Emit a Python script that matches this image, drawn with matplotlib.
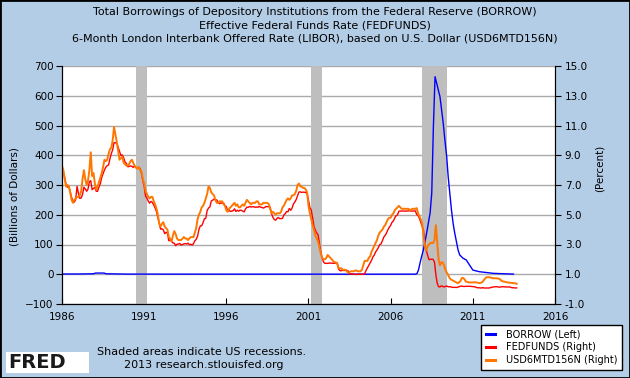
import numpy as np
import matplotlib
matplotlib.use('Agg')
import matplotlib.pyplot as plt
from matplotlib.lines import Line2D
from matplotlib.patches import Rectangle

# ---- data ----
# BORROW, billions of dollars (left axis)
borrow_dates = [1986.0, 1987.0, 1987.9, 1988.05, 1988.55, 1988.7, 1990.0, 1995.0,
                2000.0, 2005.0, 2007.5, 2007.6, 2007.69, 2007.83, 2007.99, 2008.19,
                2008.4, 2008.5, 2008.6, 2008.7, 2008.8, 2008.9, 2009.0, 2009.1,
                2009.2, 2009.3, 2009.41, 2009.5, 2009.6, 2009.7, 2009.8, 2009.9,
                2010.0, 2010.1, 2010.2, 2010.4, 2010.6, 2010.8, 2011.0, 2011.4,
                2012.25, 2013.47]
borrow = [0.8, 0.9, 1.5, 4, 4, 1.5, 0.5, 0.3,
          0.3, 0.2, 0.3, 2, 14, 48, 82, 139,
          206, 273, 496, 664, 642, 619, 597, 552,
          507, 451, 395, 328, 272, 216, 171, 138,
          110, 82, 65, 54, 48, 31, 14, 8.5,
          3, 0.5]

# FEDFUNDS, percent, monthly from Jan 1986 (right axis)
fedfunds = [
    8.14, 7.86, 7.48, 6.99, 6.85, 6.92, 6.56, 6.17, 5.89, 5.85, 6.04, 6.91,
    6.43, 6.10, 6.13, 6.37, 6.85, 6.73, 6.58, 6.73, 7.22, 7.29, 6.69, 6.77,
    6.83, 6.58, 6.58, 6.87, 7.09, 7.51, 7.75, 8.01, 8.19, 8.30, 8.35, 8.76,
    9.12, 9.36, 9.85, 9.84, 9.81, 9.53, 9.24, 8.99, 9.02, 8.84, 8.55, 8.45,
    8.23, 8.24, 8.28, 8.26, 8.18, 8.29, 8.15, 8.13, 8.20, 8.11, 7.81, 7.31,
    6.91, 6.25, 6.12, 5.91, 5.78, 5.90, 5.82, 5.66, 5.45, 5.21, 4.81, 4.43,
    4.03, 4.06, 3.98, 3.73, 3.82, 3.76, 3.25, 3.30, 3.22, 3.10, 3.09, 2.92,
    3.02, 3.03, 3.07, 2.96, 3.00, 3.04, 3.06, 3.03, 3.09, 2.99, 3.02, 2.96,
    3.05, 3.25, 3.34, 3.56, 4.01, 4.25, 4.26, 4.47, 4.73, 4.76, 5.29, 5.45,
    5.53, 5.92, 5.98, 6.05, 6.01, 6.00, 5.85, 5.74, 5.80, 5.76, 5.80, 5.60,
    5.56, 5.22, 5.31, 5.22, 5.24, 5.27, 5.40, 5.22, 5.30, 5.24, 5.31, 5.29,
    5.25, 5.19, 5.39, 5.51, 5.50, 5.56, 5.52, 5.54, 5.54, 5.50, 5.52, 5.50,
    5.56, 5.51, 5.49, 5.45, 5.49, 5.56, 5.54, 5.55, 5.51, 5.07, 4.83, 4.68,
    4.63, 4.76, 4.81, 4.74, 4.74, 4.76, 4.99, 5.07, 5.22, 5.20, 5.42, 5.30,
    5.45, 5.73, 5.85, 6.02, 6.27, 6.53, 6.54, 6.50, 6.52, 6.51, 6.51, 6.40,
    5.98, 5.49, 5.31, 4.80, 4.21, 3.97, 3.77, 3.65, 3.07, 2.49, 2.09, 1.82,
    1.73, 1.74, 1.73, 1.75, 1.75, 1.75, 1.73, 1.74, 1.75, 1.75, 1.34, 1.24,
    1.24, 1.26, 1.25, 1.26, 1.26, 1.22, 1.01, 1.03, 1.01, 1.01, 1.00, 0.98,
    1.00, 1.01, 1.00, 1.00, 1.00, 1.03, 1.26, 1.43, 1.61, 1.76, 1.93, 2.16,
    2.28, 2.50, 2.63, 2.79, 3.00, 3.04, 3.26, 3.50, 3.62, 3.78, 4.00, 4.16,
    4.29, 4.49, 4.59, 4.79, 4.94, 4.99, 5.24, 5.25, 5.25, 5.25, 5.25, 5.24,
    5.25, 5.26, 5.26, 5.25, 5.25, 5.25, 5.26, 5.02, 4.94, 4.76, 4.49, 4.24,
    3.94, 2.98, 2.61, 2.28, 1.98, 2.00, 2.01, 2.00, 1.81, 0.97, 0.39, 0.16,
    0.15, 0.22, 0.18, 0.15, 0.18, 0.21, 0.16, 0.16, 0.15, 0.12, 0.12, 0.12,
    0.11, 0.13, 0.16, 0.20, 0.20, 0.18, 0.18, 0.19, 0.19, 0.19, 0.19, 0.18,
    0.17, 0.16, 0.14, 0.10, 0.09, 0.09, 0.07, 0.10, 0.08, 0.07, 0.08, 0.07,
    0.08, 0.10, 0.13, 0.14, 0.16, 0.16, 0.16, 0.13, 0.14, 0.16, 0.16, 0.16,
    0.14, 0.15, 0.14, 0.15, 0.11, 0.09, 0.09, 0.08, 0.08,
]

# USD6MTD156N, percent, monthly from Jan 1986 (right axis)
libor = [
    8.3, 8.0, 7.4, 6.9, 7.0, 6.9, 6.5, 6.0, 5.8, 6.0, 6.1, 6.2,
    6.2, 6.3, 6.6, 7.4, 8.0, 7.4, 7.0, 7.3, 8.0, 9.2, 7.6, 7.8,
    7.1, 6.7, 6.9, 7.2, 7.5, 7.8, 8.2, 8.7, 8.6, 8.7, 9.1, 9.4,
    9.5, 10.0, 10.9, 10.4, 9.9, 9.3, 8.7, 8.8, 8.9, 8.5, 8.4, 8.3,
    8.3, 8.4, 8.6, 8.7, 8.5, 8.3, 8.2, 8.1, 8.2, 8.0, 7.9, 7.4,
    7.1, 6.6, 6.4, 6.2, 6.1, 6.2, 6.2, 5.9, 5.7, 5.4, 5.0, 4.4,
    4.2, 4.4, 4.5, 4.2, 4.1, 4.0, 3.5, 3.4, 3.2, 3.6, 3.9, 3.7,
    3.4, 3.3, 3.3, 3.3, 3.4, 3.5, 3.4, 3.4, 3.3, 3.4, 3.5, 3.5,
    3.5, 3.8, 4.1, 4.7, 5.0, 5.2, 5.5, 5.6, 5.8, 6.1, 6.4, 6.9,
    6.8, 6.5, 6.4, 6.3, 6.0, 5.8, 5.8, 5.9, 5.9, 5.9, 5.7, 5.6,
    5.3, 5.2, 5.4, 5.5, 5.6, 5.7, 5.8, 5.6, 5.7, 5.5, 5.5, 5.6,
    5.7, 5.6, 5.8, 6.0, 5.9, 5.8, 5.7, 5.8, 5.8, 5.8, 5.9, 5.9,
    5.7, 5.7, 5.7, 5.8, 5.8, 5.8, 5.8, 5.7, 5.4, 5.1, 5.2, 5.1,
    5.0, 5.1, 5.1, 5.1, 5.2, 5.5, 5.6, 5.8, 6.0, 6.1, 6.0, 6.1,
    6.3, 6.3, 6.4, 6.6, 7.0, 7.1, 6.9, 6.9, 6.8, 6.8, 6.7, 6.5,
    5.6, 5.1, 4.7, 4.3, 4.0, 3.6, 3.4, 3.2, 2.8, 2.4, 2.1, 2.0,
    2.0, 2.1, 2.3, 2.2, 2.1, 2.0, 1.9, 1.8, 1.8, 1.7, 1.4, 1.4,
    1.4, 1.3, 1.3, 1.3, 1.2, 1.1, 1.15, 1.2, 1.2, 1.2, 1.25, 1.25,
    1.2, 1.2, 1.2, 1.3, 1.6, 1.9, 1.9, 1.9, 2.1, 2.2, 2.5, 2.7,
    2.9, 3.1, 3.3, 3.6, 3.8, 3.9, 4.0, 4.2, 4.3, 4.5, 4.7, 4.8,
    4.8, 5.0, 5.1, 5.3, 5.4, 5.5, 5.6, 5.5, 5.4, 5.4, 5.4, 5.4,
    5.4, 5.4, 5.3, 5.35, 5.4, 5.4, 5.4, 5.45, 5.1, 4.9, 4.7, 4.4,
    3.6, 2.9, 2.6, 2.9, 3.0, 3.1, 3.1, 3.1, 3.3, 4.3, 3.1, 2.0,
    1.6, 1.8, 1.8, 1.6, 1.3, 1.1, 0.95, 0.75, 0.65, 0.6, 0.55, 0.5,
    0.45, 0.4, 0.45, 0.55, 0.75, 0.75, 0.65, 0.5, 0.48, 0.45, 0.45, 0.45,
    0.45, 0.46, 0.46, 0.45, 0.42, 0.41, 0.43, 0.48, 0.6, 0.72, 0.8, 0.8,
    0.8, 0.78, 0.75, 0.73, 0.73, 0.73, 0.72, 0.7, 0.65, 0.55, 0.52, 0.5,
    0.48, 0.46, 0.44, 0.43, 0.42, 0.41, 0.40, 0.39, 0.36,
]

recessions = [(1990.5, 1991.17), (2001.17, 2001.83), (2007.92, 2009.42)]
year_ticks = [1986, 1991, 1996, 2001, 2006, 2011, 2016]

months = 1986 + np.arange(len(fedfunds)) / 12.0

W, H = 630, 378
BG = '#b4cde6'
fig = plt.figure(figsize=(6.3, 3.78), dpi=100, facecolor=BG)
ax = fig.add_axes([62 / W, 1 - 304 / H, (555 - 62) / W, (304 - 66) / H])
ax.set_facecolor('white')

for a, b in recessions:
    ax.axvspan(a, b, color='#bebebe', lw=0, zorder=1)

ax.plot(borrow_dates, borrow, color='#0000ff', lw=1.0, zorder=3)
ax.set_xlim(1986, 2016)
ax.set_ylim(-100, 700)
ax.set_yticks(range(-100, 701, 100))
ax.set_xticks(year_ticks)
ax.yaxis.grid(True, color='#aaaaaa', lw=1)
ax.set_axisbelow(True)

ax2 = ax.twinx()
ax2.plot(months, fedfunds, color='#ff0000', lw=1.0)
ax2.plot(months, libor, color='#ff7700', lw=1.4)
ax2.set_ylim(-1, 15)
ax2.set_yticks(np.arange(-1, 15.1, 2))
ax2.set_yticklabels(['%.1f' % v for v in np.arange(-1, 15.1, 2)])

for a in (ax, ax2):
    a.spines['top'].set_visible(False)
ax.tick_params(axis='y', direction='out', length=4, pad=2, labelsize=7.5)
ax.tick_params(axis='x', direction='in', length=4, pad=6, labelsize=7.5)
ax2.tick_params(axis='y', direction='out', length=4, pad=3, labelsize=7.5)

fig.text(15 / W, 1 - 197 / H, '(Billions of Dollars)', rotation=90,
         ha='center', va='center', fontsize=7.5)
fig.text(600 / W, 1 - 168 / H, '(Percent)', rotation=90,
         ha='center', va='center', fontsize=7.5)

titles = ['Total Borrowings of Depository Institutions from the Federal Reserve (BORROW)',
          'Effective Federal Funds Rate (FEDFUNDS)',
          '6-Month London Interbank Offered Rate (LIBOR), based on U.S. Dollar (USD6MTD156N)']
for i, t in enumerate(titles):
    fig.text(0.5, 1 - (11.7 + 13.3 * i) / H, t, ha='center', va='center', fontsize=8)

handles = [Line2D([], [], color='#0000ff', lw=2.2),
           Line2D([], [], color='#ff0000', lw=2.2),
           Line2D([], [], color='#ff7700', lw=2.2)]
leg = fig.legend(handles, ['BORROW (Left)', 'FEDFUNDS (Right)', 'USD6MTD156N (Right)'],
                 loc='lower right', bbox_to_anchor=(627 / W, 3 / H), fontsize=7,
                 fancybox=False, framealpha=1, edgecolor='black', handlelength=0.9,
                 handletextpad=1.1, labelspacing=0.3, borderpad=0.5)
leg.get_frame().set_linewidth(1.0)

fig.text(97 / W, 1 - 352 / H, 'Shaded areas indicate US recessions.',
         ha='left', va='center', fontsize=8)
fig.text(204 / W, 1 - 365 / H, '2013 research.stlouisfed.org',
         ha='center', va='center', fontsize=8)

# FRED logo
fig.patches.append(Rectangle((6 / W, 1 - 373 / H), 83 / W, 21 / H,
                             transform=fig.transFigure, facecolor='white',
                             edgecolor='none'))
fig.text(8 / W, 1 - 363 / H, 'FRED', ha='left', va='center', fontsize=14,
         fontweight='heavy', color='#1a1a1a')
icon = fig.add_axes([70 / W, 1 - 372 / H, 17 / W, 16 / H])
icon.set_xticks([])
icon.set_yticks([])
icon.set_facecolor('#f4f4f4')
for s in icon.spines.values():
    s.set_color('#bbbbbb')
    s.set_linewidth(0.5)
icon.plot([0, 1, 2, 3, 4, 5], [0.5, 1.4, 1.0, 2.2, 1.8, 3.0], color='#4a9a3a', lw=1)
icon.plot([0, 1, 2, 3, 4, 5], [0.2, 0.7, 0.5, 1.2, 1.1, 1.6], color='#5a8ad0', lw=0.8)
icon.set_xlim(0, 5)
icon.set_ylim(0, 3.3)

# outer border
fig.patches.append(Rectangle((0, 0), 1, 1, transform=fig.transFigure,
                             fill=False, edgecolor='black', lw=2))

fig.savefig('out.png', dpi=100, facecolor=BG)
